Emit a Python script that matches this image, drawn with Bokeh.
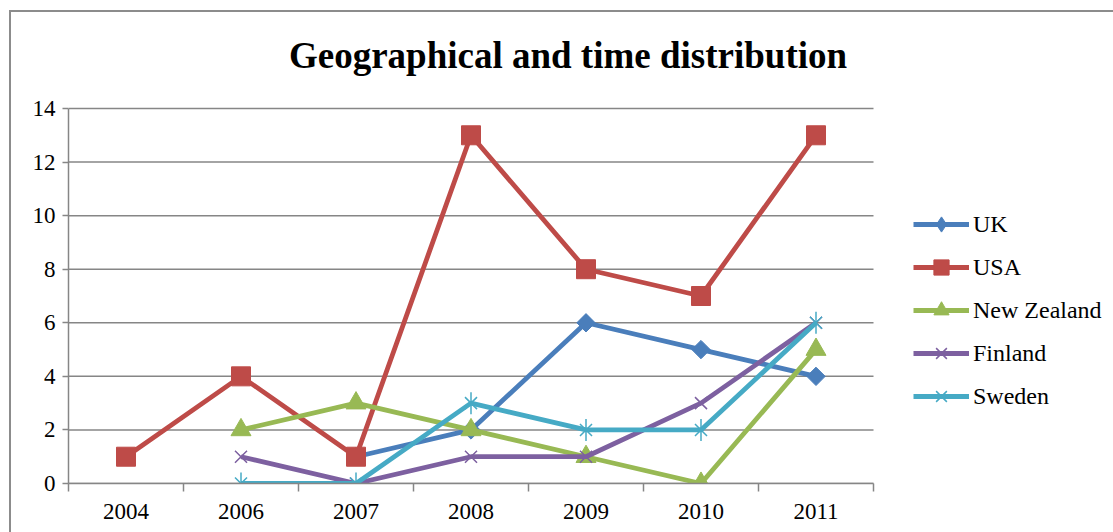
import numpy as np
from bokeh.plotting import figure
from bokeh.models import Legend, LegendItem, FixedTicker, Range1d, Label
from bokeh.embed import file_html
from bokeh.resources import INLINE

# Publications per country and year
years = ["2004", "2006", "2007", "2008", "2009", "2010", "2011"]
uk = [np.nan, np.nan, 1, 2, 6, 5, 4]
usa = [1, 4, 1, 13, 8, 7, 13]
new_zealand = [np.nan, 2, 3, 2, 1, 0, 5]
finland = [np.nan, 1, 0, 1, 1, 3, 6]
sweden = [np.nan, 0, 0, 3, 2, 2, 6]
y_ticks = [0, 2, 4, 6, 8, 10, 12, 14]
chart_title = "Geographical and time distribution"

SERIF = "Liberation Serif"
GRID = "#868686"

n = len(years)
y_max = y_ticks[-1]
xs = [i + 0.5 for i in range(n)]

# The frame runs on past the plot area (right for the legend, up for the
# title); the plot area itself is 805 x 375 px.
BAND_W, BAND_H = 805, 375
FRAME_W, FRAME_H = 1045, 471
x_end = n * FRAME_W / BAND_W
y_end = y_max * FRAME_H / BAND_H
px_x = BAND_W / n
px_y = BAND_H / y_max

p = figure(
    frame_width=FRAME_W, frame_height=FRAME_H,
    x_range=Range1d(0, x_end), y_range=Range1d(0, y_end),
    output_backend="svg", toolbar_location=None,
    min_border_left=57, min_border_right=0,
    min_border_top=0, min_border_bottom=49,
)
p.margin = (10, 0, 0, 9)
p.styles = {"border-left": "2px solid #8c8c8c", "border-top": "2px solid #8c8c8c"}
p.outline_line_color = None
p.background_fill_color = "white"
p.border_fill_color = "white"

# title centred over the chart, 53 px above the plot area
p.add_layout(Label(
    x=499.5 / px_x, y=y_max + 53 / px_y, text=chart_title,
    text_font=SERIF, text_font_size="37px", text_font_style="bold",
    text_color="black", text_align="center", text_baseline="middle",
))

# horizontal gridlines across the plot area only
p.xgrid.visible = False
p.ygrid.visible = False
p.segment(x0=0, x1=n, y0=y_ticks, y1=y_ticks, line_color=GRID, line_width=1.5)

# y axis
p.yaxis.bounds = (0, y_max)
p.yaxis.ticker = FixedTicker(ticks=y_ticks)
p.yaxis.axis_line_color = GRID
p.yaxis.axis_line_width = 1.5
p.yaxis.major_tick_line_color = GRID
p.yaxis.major_tick_line_width = 1.5
p.yaxis.major_tick_out = 6
p.yaxis.major_tick_in = 0
p.yaxis.minor_tick_line_color = None
p.yaxis.major_label_text_font = SERIF
p.yaxis.major_label_text_font_size = "23px"
p.yaxis.major_label_text_color = "black"
p.yaxis.major_label_standoff = 7

# x axis: labels at category centres, tick marks at category boundaries
p.xaxis.bounds = (0, n)
p.xaxis.ticker = FixedTicker(ticks=xs, minor_ticks=list(range(n + 1)))
p.xaxis.major_label_overrides = {x: y for x, y in zip(xs, years)}
p.xaxis.axis_line_color = GRID
p.xaxis.axis_line_width = 1.5
p.xaxis.major_tick_line_color = None
p.xaxis.major_tick_out = 0
p.xaxis.major_tick_in = 0
p.xaxis.minor_tick_line_color = GRID
p.xaxis.minor_tick_line_width = 1.5
p.xaxis.minor_tick_out = 8
p.xaxis.minor_tick_in = 0
p.xaxis.major_label_text_font = SERIF
p.xaxis.major_label_text_font_size = "23px"
p.xaxis.major_label_text_color = "black"
p.xaxis.major_label_standoff = 12

LW = 4.8
items = []

c = "#4a7ebb"
r1 = p.line(xs, uk, line_color=c, line_width=LW)
p.scatter(xs, uk, marker="square", angle=np.pi / 4, size=13, fill_color=c, line_color=c)
# diamond key for the legend only
r2 = p.scatter(xs, uk, marker="diamond", size=14, fill_color=c, line_color=c, visible=False)
items.append(LegendItem(label="UK", renderers=[r1, r2]))

c = "#be4b48"
r1 = p.line(xs, usa, line_color=c, line_width=LW)
r2 = p.scatter(xs, usa, marker="square", size=19, fill_color=c, line_color=c)
items.append(LegendItem(label="USA", renderers=[r1, r2]))

c = "#98b954"
r1 = p.line(xs, new_zealand, line_color=c, line_width=LW)
r2 = p.scatter(xs, new_zealand, marker="triangle", size=20, fill_color=c, line_color=c)
items.append(LegendItem(label="New Zealand", renderers=[r1, r2]))

c = "#7d60a0"
r1 = p.line(xs, finland, line_color=c, line_width=LW)
r2 = p.scatter(xs, finland, marker="x", size=17, line_color=c, line_width=1.5)
items.append(LegendItem(label="Finland", renderers=[r1, r2]))

c = "#46aac5"
r1 = p.line(xs, sweden, line_color=c, line_width=LW)
r2 = p.scatter(xs, sweden, marker="x", size=17, line_color=c, line_width=1.5)
r3 = p.scatter(xs, sweden, marker="dash", angle=np.pi / 2, size=22, line_color=c, line_width=1.5)
items.append(LegendItem(label="Sweden", renderers=[r1, r2, r3]))

legend = Legend(
    items=items, location=(845, 68),
    border_line_color=None, background_fill_alpha=0,
    label_text_font=SERIF, label_text_font_size="24px", label_text_color="black",
    glyph_width=56, glyph_height=38, label_height=24, label_standoff=4,
    spacing=5, padding=0, margin=0,
)
p.add_layout(legend, "center")

open("out.html", "w").write(file_html(p, INLINE))
